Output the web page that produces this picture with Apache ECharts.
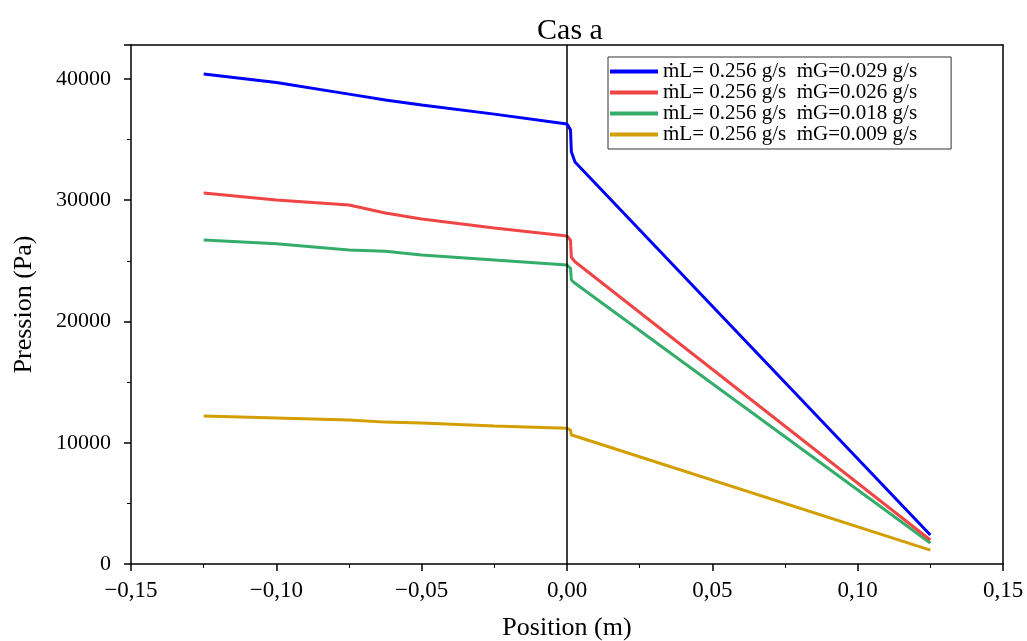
<!DOCTYPE html>
<html>
<head>
<meta charset="utf-8">
<script src="https://cdn.jsdelivr.net/npm/echarts@6/dist/echarts.min.js"></script>
<style>
  html, body { margin: 0; padding: 0; background: #fff; }
  #chart { width: 1027px; height: 641px; }
</style>
</head>
<body>
<div id="chart"></div>
<script>
// positions (m) et pressions (Pa)
const posA = [-0.125, -0.1, -0.075, -0.0625, -0.05, -0.025, 0, 0.0012, 0.0015, 0.00275, 0.125];
const pressBleu = [40400, 39700, 38750, 38270, 37860, 37100, 36290, 35800, 34000, 33150, 2390];
const pressRouge = [30600, 30020, 29600, 28950, 28450, 27700, 27050, 26700, 25300, 24930, 1980];
const pressVert = [26720, 26400, 25900, 25800, 25480, 25070, 24660, 24390, 23420, 23150, 1730];
const pressJaune = [12200, 12040, 11880, 11700, 11630, 11380, 11190, 11050, 10640, 10560, 1150];

const noms = [
  "ṁL= 0.256 g/s  ṁG=0.029 g/s",
  "ṁL= 0.256 g/s  ṁG=0.026 g/s",
  "ṁL= 0.256 g/s  ṁG=0.018 g/s",
  "ṁL= 0.256 g/s  ṁG=0.009 g/s"
];
const couleurs = ["#0000ff", "#f04545", "#35ad6a", "#d29e00"];

const police = "'Liberation Serif', 'Times New Roman', serif";

function paires(ys) {
  return posA.map((x, i) => [x, ys[i]]);
}

const myChart = echarts.init(document.getElementById("chart"));

const series = [pressBleu, pressRouge, pressVert, pressJaune].map((ys, i) => ({
  name: noms[i],
  type: "line",
  data: paires(ys),
  showSymbol: false,
  symbol: "none",
  lineStyle: { width: 3, color: couleurs[i] },
  itemStyle: { color: couleurs[i] },
  z: 5 - i
}));

// ligne verticale x = 0
series.push({
  name: "zero",
  type: "line",
  data: [],
  markLine: {
    silent: true,
    symbol: "none",
    label: { show: false },
    lineStyle: { color: "#000", width: 1.5, type: "solid" },
    data: [{ xAxis: 0 }]
  }
});

const option = {
  animation: false,
  backgroundColor: "#fff",
  title: {
    text: "Cas a",
    left: 565,
    textAlign: "center",
    top: 11,
    textStyle: { fontFamily: police, fontSize: 30, fontWeight: "normal", color: "#000" }
  },
  legend: {
    data: noms,
    orient: "vertical",
    left: 608,
    top: 57,
    padding: [4, 34, 4, 2],
    itemGap: 0,
    itemWidth: 48,
    itemHeight: 4,
    icon: "rect",
    backgroundColor: "#fff",
    borderColor: "#333",
    borderWidth: 1,
    textStyle: { fontFamily: police, fontSize: 21, color: "#000" }
  },
  grid: { left: 131, right: 24, top: 45, bottom: 77, outerBoundsMode: "none", containLabel: false },
  xAxis: [
    {
      type: "value",
      min: -0.15,
      max: 0.15,
      interval: 0.05,
      name: "Position (m)",
      nameLocation: "middle",
      nameGap: 51,
      nameTextStyle: { fontFamily: police, fontSize: 26, color: "#000" },
      axisLine: { onZero: false, lineStyle: { color: "#000", width: 1.5 } },
      axisTick: { inside: false, length: 7, lineStyle: { color: "#000", width: 1.5 } },
      minorTick: { show: true, splitNumber: 2, length: 4, lineStyle: { color: "#000" } },
      splitLine: { show: false },
      axisLabel: {
        fontFamily: police, fontSize: 23, color: "#000", margin: 15,
        formatter: v => (v < 0 ? "−" : "") + Math.abs(v).toFixed(2).replace(".", ",")
      }
    },
    {
      type: "value",
      position: "top",
      min: -0.15,
      max: 0.15,
      axisLine: { show: true, onZero: false, lineStyle: { color: "#000", width: 1.5 } },
      axisTick: { show: false },
      axisLabel: { show: false },
      splitLine: { show: false }
    }
  ],
  yAxis: [
    {
      type: "value",
      min: 0,
      max: 42800,
      interval: 10000,
      name: "Pression (Pa)",
      nameLocation: "middle",
      nameGap: 94,
      nameTextStyle: { fontFamily: police, fontSize: 26, color: "#000" },
      axisLine: { show: true, onZero: false, lineStyle: { color: "#000", width: 1.5 } },
      axisTick: { show: true, length: 7, lineStyle: { color: "#000", width: 1.5 } },
      minorTick: { show: true, splitNumber: 2, length: 4, lineStyle: { color: "#000" } },
      splitLine: { show: false },
      axisLabel: {
        fontFamily: police, fontSize: 22, color: "#000", margin: 20,
        showMaxLabel: false,
        formatter: v => String(v)
      }
    },
    {
      type: "value",
      position: "right",
      min: 0,
      max: 42800,
      axisLine: { show: true, onZero: false, lineStyle: { color: "#000", width: 1.5 } },
      axisTick: { show: false },
      axisLabel: { show: false },
      splitLine: { show: false }
    }
  ],
  series: series
};

myChart.setOption(option);
</script>
</body>
</html>
